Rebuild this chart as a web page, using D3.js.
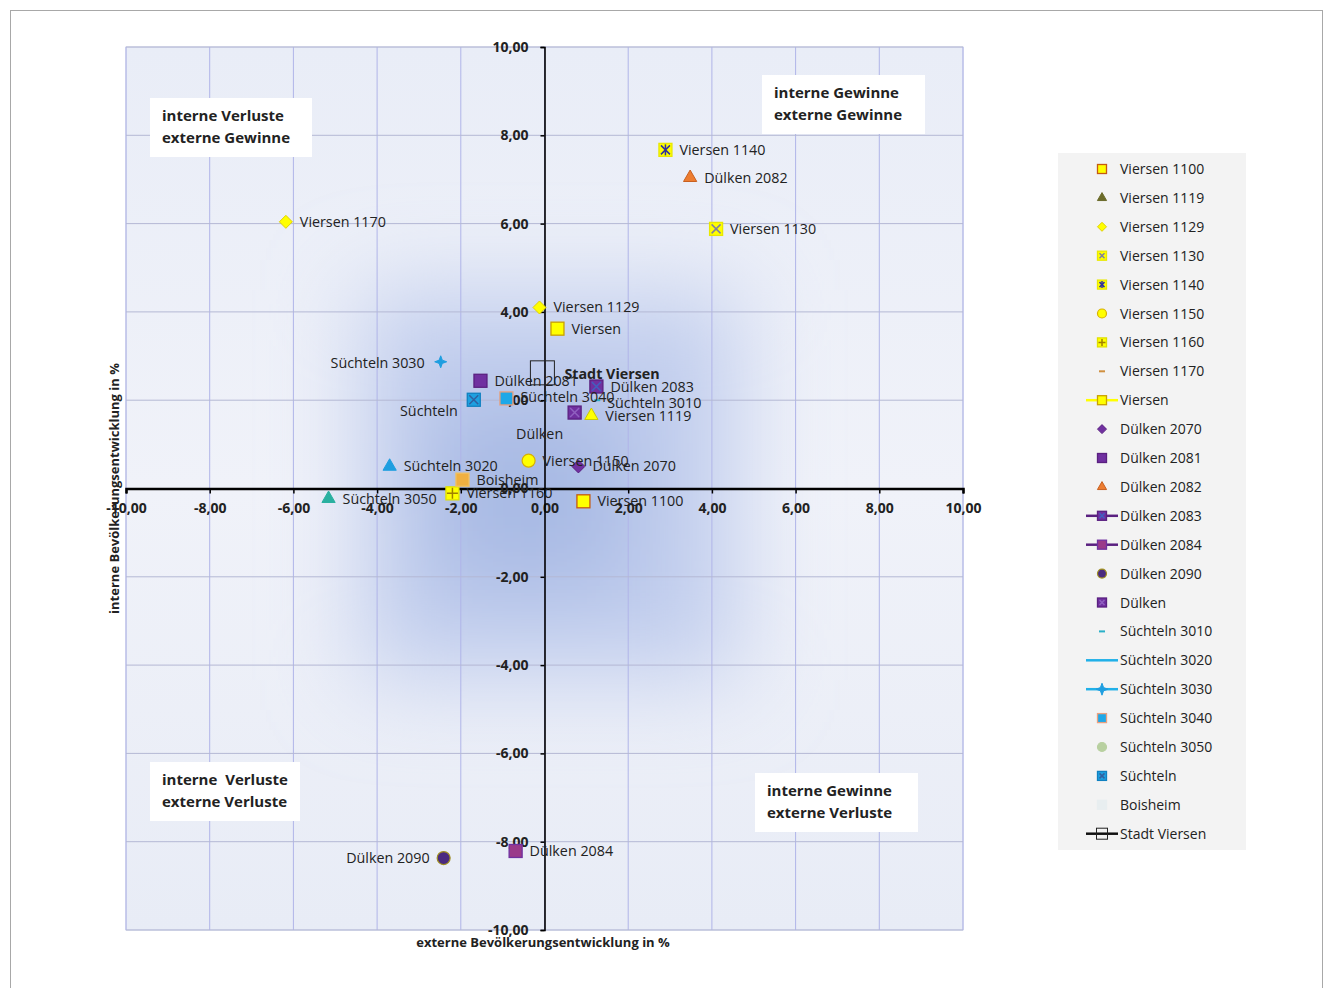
<!DOCTYPE html>
<html>
<head>
<meta charset="utf-8">
<title>Bevölkerungsentwicklung Viersen</title>
<script src="https://d3js.org/d3.v7.min.js"></script>
<style>
body { margin: 0; background: #fff; }
text { font-family: "Open Sans", "DejaVu Sans", sans-serif; fill: #222; }
</style>
</head>
<body>
<div id="chart"></div>
<script>
// --- data ---------------------------------------------------------------
var names  = ["Viersen 1100", "Viersen 1119", "Viersen 1129", "Viersen 1130", "Viersen 1140",
              "Viersen 1150", "Viersen 1160", "Viersen 1170", "Viersen", "Dülken 2070",
              "Dülken 2081", "Dülken 2082", "Dülken 2083", "Dülken 2084", "Dülken 2090",
              "Dülken", "Süchteln 3010", "Süchteln 3020", "Süchteln 3030", "Süchteln 3040",
              "Süchteln 3050", "Süchteln", "Boisheim", "Stadt Viersen"];
var extern = [0.93, 1.12, -0.12, 4.10, 2.89, -0.38, -2.20, -6.18, 0.31, 0.81,
              -1.53, 3.48, 1.24, -0.69, -2.41, 0.72, 1.26, -3.70, -2.48, -0.91,
              -5.16, -1.69, -1.96, -0.05];
var intern = [-0.29, 1.65, 4.10, 5.88, 7.67, 0.63, -0.11, 6.04, 3.62, 0.50,
              2.44, 7.04, 2.31, -8.21, -8.37, 1.72, 2.00, 0.50, 2.87, 2.04,
              -0.23, 2.01, 0.20, 2.62];
var xTicks = [-10, -8, -6, -4, -2, 0, 2, 4, 6, 8, 10];
var yTicks = [-10, -8, -6, -4, -2, 0, 2, 4, 6, 8, 10];
var quadrants = [
  ["interne Verluste", "externe Gewinne"],
  ["interne Gewinne", "externe Gewinne"],
  ["interne  Verluste", "externe Verluste"],
  ["interne Gewinne", "externe Verluste"]
];

// marker look per series (shape, fill, stroke, legend line colour)
var style = [
  {s: "square",  f: "#ffff00", c: "#c55a11"},
  {s: "tri",     f: "#ffff00", c: "#c9c900", lg: {s: "tri", f: "#6b6b2a", c: "#6b6b2a"}},
  {s: "diamond", f: "#ffff00", c: "#e0d000"},
  {s: "sqx",     f: "#ffff00", c: "#e8e800", k: "#8080a0"},
  {s: "sqstar",  f: "#ffff00", c: "#e8e800", k: "#3030a0"},
  {s: "circle",  f: "#ffff00", c: "#d8b000"},
  {s: "sqplus",  f: "#ffff00", c: "#e0e000", k: "#a08000"},
  {s: "diamond", f: "#ffff00", c: "#e0d000", lg: {s: "dash", f: "#d09040", c: "#d09040"}},
  {s: "square",  f: "#ffff00", c: "#c9a000", line: "#ffff00"},
  {s: "diamond", f: "#7030a0", c: "#5a2080"},
  {s: "square",  f: "#7030a0", c: "#5a2080"},
  {s: "tri",     f: "#ed7d31", c: "#c86020"},
  {s: "sqx",     f: "#7030a0", c: "#5a2080", k: "#4060c0", line: "#5a2080"},
  {s: "square",  f: "#9a3a8a", c: "#7030a0", line: "#5a2080"},
  {s: "circle",  f: "#4a2a80", c: "#a09020"},
  {s: "sqx",     f: "#7030a0", c: "#5a2080", k: "#9060c0"},
  {s: "dash",    f: "#2ab0c8", c: "#2ab0c8"},
  {s: "tri",     f: "#1e9ee0", c: "#1e9ee0", line: "#20b0e8", lg: {s: "none"}},
  {s: "star",    f: "#1e9ee0", c: "#1e9ee0", line: "#20b0e8"},
  {s: "square",  f: "#1ea8e8", c: "#e8a080"},
  {s: "tri",     f: "#2ab0a0", c: "#2ab0a0", lg: {s: "circle", f: "#b8d0a0", c: "#b8d0a0"}},
  {s: "sqx",     f: "#1ea0e0", c: "#1080c0", k: "#3060a0"},
  {s: "square",  f: "#f0b040", c: "#f0c060", lg: {s: "square", f: "#e8eef0", c: "#e8eef0"}},
  {s: "box",     f: "none",    c: "#222", line: "#111"}
];

// label placement (dx, dy, anchor, bold)
var place = {
  "Süchteln 3030": [-16, 6, "end"],
  "Dülken 2090":  [-14, 5, "end"],
  "Süchteln":     [-16, 16, "end"],
  "Dülken":       [-35, 26, "middle"],
  "Stadt Viersen": [22, 6, "start", true],
  "Süchteln 3040": [14, 4, "start"],
  "Süchteln 3010": [10, 8, "start"]
};

var W = 1330, H = 988;
var svg = d3.select("#chart").append("svg").attr("width", W).attr("height", H);
var defs = svg.append("defs");

var x = d3.scaleLinear().domain([-10, 10]).range([126, 963]);
var y = d3.scaleLinear().domain([-10, 10]).range([930, 47]);
var fmt = function(v){ return d3.format(".2f")(v).replace(".", ",").replace("\u2212", "-"); };

// outer frame
svg.append("rect").attr("x", 10.5).attr("y", 10.5).attr("width", 1312).attr("height", 990)
   .attr("fill", "#fff").attr("stroke", "#a8a8a8");

// plot background
var bg = defs.append("linearGradient").attr("id", "bg").attr("x1", 0).attr("y1", 0).attr("x2", 0).attr("y2", 1);
bg.append("stop").attr("offset", 0).attr("stop-color", "#e9edf7");
bg.append("stop").attr("offset", 0.5).attr("stop-color", "#f0f2f9");
bg.append("stop").attr("offset", 1).attr("stop-color", "#e8ecf6");
defs.append("filter").attr("id", "soft").attr("x", "-50%").attr("y", "-50%").attr("width", "200%").attr("height", "200%")
   .append("feGaussianBlur").attr("stdDeviation", 45);

svg.append("rect").attr("x", x(-10)).attr("y", y(10))
   .attr("width", x(10) - x(-10)).attr("height", y(-10) - y(10))
   .attr("fill", "url(#bg)").attr("stroke", "#c8cde6");
var glow = svg.append("g").attr("filter", "url(#soft)");
glow.append("rect").attr("x", 360).attr("y", 290).attr("width", 380).attr("height", 390)
   .attr("fill", "#c3cfee");
glow.append("rect").attr("x", 430).attr("y", 400).attr("width", 200).attr("height", 190)
   .attr("fill", "#a8bae4");

// gridlines
svg.append("g").selectAll("line").data(xTicks).join("line")
   .attr("x1", d => x(d)).attr("x2", d => x(d)).attr("y1", y(10)).attr("y2", y(-10))
   .attr("stroke", "#b0b4e8").attr("stroke-width", 1);
svg.append("g").selectAll("line").data(yTicks).join("line")
   .attr("y1", d => y(d)).attr("y2", d => y(d)).attr("x1", x(-10)).attr("x2", x(10))
   .attr("stroke", "#b4b8d4").attr("stroke-width", 1);

// axes
var xAxis = svg.append("g").attr("transform", "translate(0," + y(0) + ")")
   .call(d3.axisBottom(x).tickValues(xTicks).tickFormat(fmt).tickSize(5).tickPadding(10));
var yAxis = svg.append("g").attr("transform", "translate(" + x(0) + ",0)")
   .call(d3.axisLeft(y).tickValues(yTicks).tickFormat(fmt).tickSize(4).tickPadding(12));
xAxis.select(".domain").attr("stroke", "#000").attr("stroke-width", 2.5);
yAxis.select(".domain").attr("stroke", "#000").attr("stroke-width", 1.6);
xAxis.selectAll(".tick line").attr("stroke", "#000").attr("stroke-width", 1.5);
yAxis.selectAll(".tick line").attr("stroke", "#000").attr("stroke-width", 1.5);
[xAxis, yAxis].forEach(function(a){
  a.selectAll(".tick text").style("font-family", "'Open Sans', sans-serif")
   .attr("font-size", 14).attr("font-weight", "bold").attr("fill", "#111");
});

// axis titles
svg.append("text").attr("x", 543).attr("y", 947).attr("text-anchor", "middle")
   .attr("font-size", 13).attr("font-weight", "bold").text("externe Bevölkerungsentwicklung in %");
svg.append("text").attr("transform", "translate(119," + y(0) + ") rotate(-90)").attr("text-anchor", "middle")
   .attr("font-size", 13).attr("font-weight", "bold").text("interne Bevölkerungsentwicklung in %");

// quadrant labels
var qBox = [[150, 98, 162], [762, 75, 163], [150, 762, 150], [755, 773, 163]];
quadrants.forEach(function(q, i){
  var b = qBox[i];
  svg.append("rect").attr("x", b[0]).attr("y", b[1]).attr("width", b[2]).attr("height", 59)
     .attr("fill", "#fff");
  q.forEach(function(t, j){
    svg.append("text").attr("x", b[0] + 12).attr("y", b[1] + 23 + j * 22)
       .attr("font-size", 15).attr("font-weight", "bold").attr("fill", "#1a1a1a")
       .style("white-space", "pre").text(t);
  });
});

// marker drawing
function marker(g, st, size) {
  var r = size / 2;
  if (st.s === "square" || st.s === "sqx" || st.s === "sqstar" || st.s === "sqplus") {
    g.append("rect").attr("x", -r).attr("y", -r).attr("width", size).attr("height", size)
     .attr("fill", st.f).attr("stroke", st.c).attr("stroke-width", 1.3);
    var k = st.k || st.c;
    if (st.s === "sqx" || st.s === "sqstar") {
      g.append("path").attr("d", "M" + (-r+2) + "," + (-r+2) + "L" + (r-2) + "," + (r-2) + "M" + (r-2) + "," + (-r+2) + "L" + (-r+2) + "," + (r-2))
       .attr("stroke", k).attr("stroke-width", 1.5);
    }
    if (st.s === "sqstar" || st.s === "sqplus") {
      g.append("path").attr("d", "M0," + (-r+1) + "L0," + (r-1) + (st.s === "sqplus" ? "M" + (-r+1) + ",0L" + (r-1) + ",0" : ""))
       .attr("stroke", k).attr("stroke-width", 1.5);
    }
  } else if (st.s === "tri") {
    g.append("path").attr("d", d3.symbol(d3.symbolTriangle, size * size * 0.45)())
     .attr("fill", st.f).attr("stroke", st.c).attr("stroke-width", 1);
  } else if (st.s === "diamond") {
    g.append("path").attr("d", "M0," + (-r) + "L" + (r) + ",0L0," + (r) + "L" + (-r) + ",0Z")
     .attr("fill", st.f).attr("stroke", st.c).attr("stroke-width", 1);
  } else if (st.s === "circle") {
    g.append("circle").attr("r", r).attr("fill", st.f).attr("stroke", st.c).attr("stroke-width", 1.2);
  } else if (st.s === "dash") {
    g.append("line").attr("x1", -3).attr("x2", 3).attr("stroke", st.c).attr("stroke-width", 2);
  } else if (st.s === "star") {
    g.append("path").attr("d", "M0,-6L1.6,-1.6L6,0L1.6,1.6L0,6L-1.6,1.6L-6,0L-1.6,-1.6Z")
     .attr("fill", st.f).attr("stroke", st.c).attr("stroke-width", 1);
  } else if (st.s === "box") {
    g.append("rect").attr("x", -r).attr("y", -r).attr("width", size).attr("height", size)
     .attr("fill", "none").attr("stroke", st.c).attr("stroke-width", 1);
  }
}

// points
var pts = svg.append("g");
names.forEach(function(n, i){
  var st = style[i];
  var g = pts.append("g").attr("transform", "translate(" + x(extern[i]) + "," + y(intern[i]) + ")");
  marker(g, st, st.s === "box" ? 24 : 13);
});
// labels on top
names.forEach(function(n, i){
  var p = place[n] || [14, 5, "start"];
  svg.append("text").attr("x", x(extern[i]) + p[0]).attr("y", y(intern[i]) + p[1])
     .attr("text-anchor", p[2]).attr("font-size", 14.3)
     .attr("font-weight", p[3] ? "bold" : "normal").attr("fill", "#222").text(n);
});

// legend
var lg = svg.append("g").attr("transform", "translate(1058,153)");
lg.append("rect").attr("width", 188).attr("height", 697).attr("fill", "#f3f3f3");
names.forEach(function(n, i){
  var yy = 16 + i * 28.9;
  var st = style[i].lg || style[i];
  var row = lg.append("g").attr("transform", "translate(0," + yy + ")");
  if (style[i].line) {
    row.append("line").attr("x1", 28).attr("x2", 60).attr("stroke", style[i].line).attr("stroke-width", 2.5);
  }
  var m = row.append("g").attr("transform", "translate(44,0)");
  marker(m, st, st.s === "box" ? 11 : 9);
  row.append("text").attr("x", 62).attr("y", 5).attr("font-size", 14).attr("fill", "#333").text(n);
});
</script>
</body>
</html>
